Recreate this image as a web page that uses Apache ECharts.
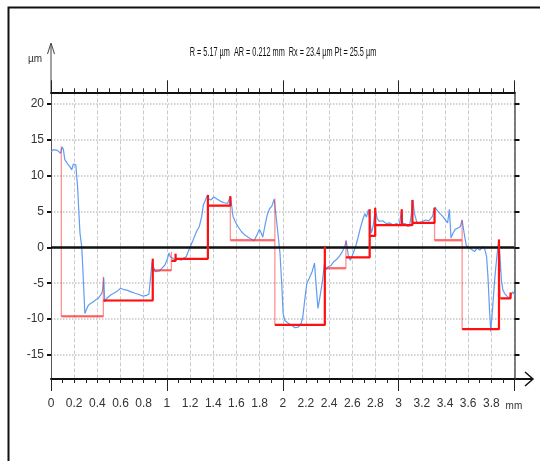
<!DOCTYPE html>
<html>
<head>
<meta charset="utf-8">
<script src="https://cdn.jsdelivr.net/npm/echarts@6/dist/echarts.min.js"></script>
<style>
    html, body {margin: 0; padding: 0; background: #fff;}
    #profile {width: 540px; height: 461px;}
</style>
</head>
<body>
<div id="profile"></div>
<script type="text/javascript">
    // roughness profile (mm, µm)
    var profileX = [0.000, 0.021, 0.036, 0.054, 0.071, 0.083, 0.095, 0.107, 0.119, 0.140, 0.155, 0.164, 0.179, 0.193, 0.214,
        0.229, 0.238, 0.250, 0.265, 0.274, 0.283, 0.292, 0.304, 0.315, 0.327, 0.345, 0.363, 0.387, 0.408, 0.423, 0.438,
        0.446, 0.455, 0.464, 0.482, 0.497, 0.518, 0.542, 0.571, 0.601, 0.631, 0.661, 0.690, 0.726, 0.765, 0.795, 0.824,
        0.845, 0.860, 0.872, 0.884, 0.899, 0.914, 0.935, 0.958, 0.982, 1.003, 1.018, 1.030, 1.048, 1.062, 1.077, 1.098,
        1.122, 1.146, 1.167, 1.196, 1.226, 1.256, 1.280, 1.301, 1.315, 1.333, 1.351, 1.363, 1.381, 1.405, 1.435, 1.464,
        1.494, 1.524, 1.536, 1.548, 1.560, 1.571, 1.589, 1.613, 1.643, 1.673, 1.702, 1.732, 1.753, 1.777, 1.798, 1.815,
        1.827, 1.845, 1.866, 1.887, 1.905, 1.926, 1.940, 1.958, 1.976, 1.991, 2.003, 2.018, 2.042, 2.074, 2.104, 2.134,
        2.155, 2.173, 2.190, 2.208, 2.229, 2.253, 2.274, 2.289, 2.304, 2.321, 2.342, 2.360, 2.375, 2.393, 2.417, 2.440,
        2.464, 2.491, 2.515, 2.536, 2.548, 2.565, 2.583, 2.601, 2.625, 2.649, 2.670, 2.690, 2.708, 2.723, 2.738, 2.750,
        2.765, 2.780, 2.798, 2.815, 2.833, 2.863, 2.893, 2.923, 2.952, 2.982, 3.006, 3.024, 3.036, 3.057, 3.077, 3.095,
        3.110, 3.122, 3.137, 3.155, 3.173, 3.205, 3.232, 3.262, 3.292, 3.313, 3.330, 3.357, 3.381, 3.405, 3.423, 3.438,
        3.452, 3.470, 3.488, 3.512, 3.533, 3.548, 3.565, 3.583, 3.607, 3.631, 3.655, 3.676, 3.702, 3.726, 3.744, 3.759,
        3.771, 3.783, 3.795, 3.810, 3.824, 3.839, 3.851, 3.863, 3.875, 3.887, 3.899, 3.914, 3.935, 3.955, 3.970, 3.985, 4.000];
    var profileY = [13.3, 13.6, 13.6, 13.5, 13.3, 13.1, 14.0, 13.6, 12.2, 11.7, 11.6, 11.2, 10.8, 11.6, 11.5,
        8.5, 5.7, 2.0, 0.1, -2.7, -5.9, -9.2, -9.0, -8.3, -8.0, -7.8, -7.6, -7.3, -7.1, -6.9, -6.4,
        -5.9, -4.2, -7.6, -7.1, -6.9, -6.6, -6.4, -6.1, -5.7, -5.9, -6.0, -6.2, -6.4, -6.6, -6.8, -6.7,
        -6.5, -4.1, -2.0, -2.7, -3.4, -3.6, -3.3, -2.9, -2.5, -1.7, -0.8, -1.3, -1.5, -1.3, -1.8, -1.6,
        -1.8, -1.5, -1.3, -0.1, 1.0, 2.2, 2.9, 4.3, 5.9, 6.6, 7.3, 6.7, 6.6, 7.0, 6.7, 6.4,
        6.2, 6.1, 6.6, 7.1, 5.7, 4.3, 3.6, 2.9, 2.2, 1.7, 1.4, 1.1, 0.9, 1.7, 2.5, 2.0,
        1.4, 2.9, 4.5, 5.4, 5.7, 6.7, 4.7, 2.0, -0.8, -5.0, -9.2, -10.2, -10.5, -10.8, -11.2, -11.1,
        -10.8, -9.7, -7.3, -5.0, -4.3, -3.4, -2.2, -5.5, -8.5, -6.9, -4.8, -2.2, -3.1, -2.7, -2.5, -2.0,
        -1.7, -1.2, -0.6, 0.2, 0.9, -1.1, -1.8, -1.1, -0.1, 1.3, 2.7, 3.8, 4.7, 4.2, 5.2, 4.0,
        2.0, 2.9, 5.4, 4.0, 3.6, 3.7, 3.3, 3.4, 3.1, 3.3, 3.1, 5.1, 3.3, 3.3, 2.9, 3.0,
        4.7, 6.6, 4.7, 3.6, 3.4, 3.6, 3.8, 3.7, 4.3, 5.6, 5.2, 4.7, 4.3, 3.8, 3.4, 5.3,
        1.3, 2.0, 2.5, 2.7, 2.9, 3.8, 2.0, 0.3, -0.1, -0.3, -0.6, -0.1, -0.4, 0.1, -0.3, -1.3,
        -4.1, -8.3, -11.7, -8.7, -5.5, -2.7, -0.8, 0.9, -1.3, -4.6, -5.9, -6.4, -6.8, -7.1, -6.6, -6.2, -6.6];

    // mean line segments
    var segStart = [0.089, 0.452, 0.878, 1.039, 1.075, 1.354, 1.548, 1.932, 2.363, 2.545, 2.750, 2.798, 3.027, 3.119, 3.310, 3.548, 3.866, 3.878];
    var segEnd = [0.452, 0.878, 1.039, 1.075, 1.354, 1.548, 1.932, 2.363, 2.545, 2.750, 2.798, 3.027, 3.119, 3.310, 3.548, 3.866, 3.878, 3.966];
    var segPeak = [14.0, -4.1, -1.6, -0.6, -0.9, 7.3, 7.1, 6.8, 0.1, 1.0, 5.3, 5.5, 5.3, 6.6, 5.5, 3.8, 1.1, -3.2];
    var segLevel = [-9.6, -7.4, -3.2, -1.9, -1.6, 5.8, 1.0, -10.8, -2.9, -1.4, 1.6, 3.1, 3.1, 3.4, 1.0, -11.4, -3.2, -7.1];
    var segBright = [0, 1, 0, 1, 1, 1, 0, 1, 0, 1, 1, 1, 1, 1, 0, 1, 1, 1];
    var endPeak = -6.3;

    var yTicks = [-15, -10, -5, 0, 5, 10, 15, 20];
    var yMin = -18.33, yMax = 21.58;
    var xMin = 0, xMax = 4.0;

    var titleText = 'R = 5.17 µm  AR = 0.212 mm  Rx = 23.4 µm Pt = 25.5 µm';
    var labelFont = "'Liberation Sans', Arial, sans-serif";

    var profileData = [];
    for (var i = 0; i < profileX.length; i++) {
        profileData.push([profileX[i], profileY[i]]);
    }

    var meanData = [];
    for (var i = 0; i < segStart.length; i++) {
        meanData.push([segStart[i], segPeak[i]]);
        meanData.push([segStart[i], segLevel[i]]);
        meanData.push([segEnd[i], segLevel[i]]);
    }
    meanData.push([segEnd[segEnd.length - 1], endPeak]);

    var series = [
        {
            name: 'profile',
            type: 'line',
            data: profileData,
            showSymbol: false,
            lineStyle: {color: '#5f9cf2', width: 1.2},
            z: 3,
            markLine: {
                silent: true,
                symbol: 'none',
                label: {show: false},
                lineStyle: {color: '#111', width: 2.5, type: 'solid'},
                data: [{yAxis: 0}]
            }
        },
        {
            name: 'mean',
            type: 'line',
            data: meanData,
            showSymbol: false,
            lineStyle: {color: 'rgba(255,40,40,0.5)', width: 1.3},
            z: 4
        }
    ];
    for (var i = 0; i < segStart.length; i++) {
        var next = i + 1 < segPeak.length ? segPeak[i + 1] : endPeak;
        if (segBright[i]) {
            series.push({
                type: 'line',
                data: [[segStart[i], segLevel[i]], [segEnd[i], segLevel[i]], [segEnd[i], next]],
                showSymbol: false,
                lineStyle: {color: '#ff1010', width: 2.2},
                z: 5
            });
        } else {
            series.push({
                type: 'line',
                data: [[segStart[i], segLevel[i]], [segEnd[i], segLevel[i]]],
                showSymbol: false,
                lineStyle: {color: 'rgba(255,50,50,0.55)', width: 2.5},
                z: 4
            });
        }
    }

    var myChart = echarts.init(document.getElementById('profile'), null, {renderer: 'canvas'});
    var option = {
        backgroundColor: '#fff',
        animation: false,
        grid: {left: 51, right: 25.5, top: 92.3, bottom: 82, containLabel: false},
        xAxis: [
            {
                type: 'value', position: 'bottom', min: xMin, max: xMax, interval: 0.2,
                axisLine: {show: true, onZero: false, lineStyle: {color: '#111', width: 2}},
                axisTick: {show: true, length: 4, lineStyle: {color: '#222'}},
                minorTick: {show: true, splitNumber: 2, length: 4, lineStyle: {color: '#222'}},
                axisLabel: {
                    margin: 19, color: '#333', fontSize: 12, fontFamily: labelFont, showMaxLabel: false,
                    formatter: function (v) { return v > 3.9 ? '' : String(+v.toFixed(1)); }
                },
                splitLine: {show: true, lineStyle: {color: '#cbcbcb', type: 'dashed', width: 1}},
                name: 'mm', nameLocation: 'end', nameGap: -13,
                nameTextStyle: {color: '#333', fontSize: 10, fontFamily: labelFont, verticalAlign: 'top', align: 'left', padding: [22, 0, 0, 0]}
            },
            {
                type: 'value', position: 'bottom', min: xMin, max: xMax, interval: 1,
                axisLine: {show: false, onZero: false},
                axisTick: {show: true, length: 12, lineStyle: {color: '#222'}},
                axisLabel: {show: false},
                splitLine: {show: false}
            },
            {
                type: 'value', position: 'top', min: xMin, max: xMax, interval: 0.2,
                axisLine: {show: true, onZero: false, lineStyle: {color: '#111', width: 2}},
                axisTick: {show: true, length: 4, lineStyle: {color: '#222'}},
                minorTick: {show: true, splitNumber: 2, length: 4, lineStyle: {color: '#222'}},
                axisLabel: {show: false},
                splitLine: {show: false}
            },
            {
                type: 'value', position: 'top', min: xMin, max: xMax, interval: 1,
                axisLine: {show: false, onZero: false},
                axisTick: {show: true, length: 12, lineStyle: {color: '#222'}},
                axisLabel: {show: false},
                splitLine: {show: false}
            }
        ],
        yAxis: [
            {
                type: 'value', position: 'left', min: yMin, max: yMax,
                axisLine: {show: true, onZero: false, lineStyle: {color: '#555', width: 1}},
                axisTick: {show: true, length: 4, customValues: yTicks, lineStyle: {color: '#111', width: 2}},
                axisLabel: {margin: 7, color: '#333', fontSize: 12, fontFamily: labelFont, customValues: yTicks},
                splitLine: {show: true, lineStyle: {color: '#c4c4c4', type: 'dotted', width: 1.5}},
                name: 'µm', nameLocation: 'end', nameGap: 33,
                nameTextStyle: {color: '#333', fontSize: 10, fontFamily: labelFont, align: 'right', verticalAlign: 'middle', padding: [0, 9, 0, 0]}
            },
            {
                type: 'value', position: 'right', min: yMin, max: yMax,
                axisLine: {show: true, onZero: false, lineStyle: {color: '#555', width: 1.5}},
                axisTick: {show: true, length: 5, customValues: yTicks, lineStyle: {color: '#111', width: 2}},
                axisLabel: {show: false},
                splitLine: {show: false}
            }
        ],
        graphic: [
            {type: 'rect', shape: {x: 8.5, y: 7.5, width: 545, height: 470}, style: {fill: 'none', stroke: '#111', lineWidth: 2}, silent: true},
            // narrow header text, centred over the plot
            {type: 'text', x: 283, y: 52, scaleX: 0.54, silent: true,
                style: {text: titleText, align: 'center', verticalAlign: 'middle', fill: '#111', font: "13.5px 'Liberation Sans', Arial, sans-serif"}},
            {type: 'line', shape: {x1: 51, y1: 92, x2: 51, y2: 44}, style: {stroke: '#444', lineWidth: 1}, silent: true},
            {type: 'polyline', shape: {points: [[47.5, 54], [51, 43], [54.5, 54]]}, style: {stroke: '#444', fill: 'none', lineWidth: 1}, silent: true},
            {type: 'line', shape: {x1: 514, y1: 379, x2: 532, y2: 379}, style: {stroke: '#111', lineWidth: 2}, silent: true},
            {type: 'polyline', shape: {points: [[525, 372], [533, 379], [525, 386]]}, style: {stroke: '#111', fill: 'none', lineWidth: 1.5}, silent: true}
        ],
        series: series
    };
    myChart.setOption(option);
    window.onresize = function () {
        myChart.resize();
    };
</script>
</body>
</html>
